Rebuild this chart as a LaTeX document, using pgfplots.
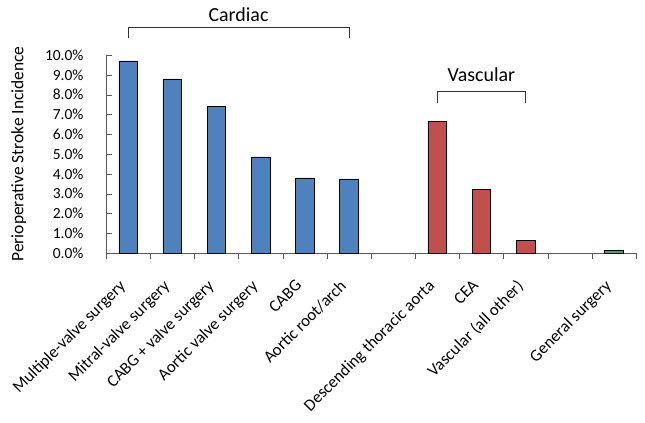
\documentclass[border=0pt]{standalone}
\usepackage{pgfplots}
\pgfplotsset{compat=1.18}
\usepackage{fontspec}
\setmainfont{Carlito}
\definecolor{cblue}{HTML}{4F81BD}
\definecolor{cred}{HTML}{C0504D}
\definecolor{cgreen}{HTML}{3AA776}
\begin{document}
\begin{tikzpicture}
\begin{axis}[
  name=ax,
  scale only axis,
  width=530bp, height=198bp,
  xmin=-0.5, xmax=11.5,
  ymin=0, ymax=10,
  clip=false,
  axis x line*=bottom,
  axis y line*=left,
  tick align=inside,
  xtick={0,1,2,3,4,5,7,8,9,11},
  xticklabels={Multiple-valve surgery,Mitral-valve surgery,CABG + valve surgery,Aortic valve surgery,CABG,Aortic root/arch,Descending thoracic aorta,CEA,Vascular (all other),General surgery},
  major x tick style={draw=none},
  minor xtick={-0.5,0.5,...,11.5},
  minor tick length=6bp,
  x tick label style={xshift=-10bp, yshift=-18bp, rotate=45, anchor=north east, font=\fontsize{16.8}{18}\selectfont, inner sep=1pt},
  ytick={0,1,...,10},
  yticklabel={\pgfmathprintnumber[fixed,fixed zerofill,precision=1]{\tick}\%},
  y tick label style={font=\fontsize{15.5}{17}\selectfont, xshift=-19bp},
  /pgf/number format/assume math mode=true,
  major tick length=6bp,
  every axis y label/.style={at={(ticklabel cs:0.5)}, xshift=-12bp, rotate=90, anchor=near ticklabel, font=\fontsize{17.5}{19}\selectfont},
  ylabel={Perioperative Stroke Incidence},
  axis line style={gray!70!black},
  tick style={gray!70!black},
  ybar, bar width=0.42,
  bar shift=0pt,
]
\addplot[fill=cblue, draw=black] coordinates {(0,9.7) (1,8.8) (2,7.4) (3,4.85) (4,3.8) (5,3.75)};
\addplot[fill=cred, draw=black] coordinates {(7,6.65) (8,3.2) (9,0.65)};
\addplot[fill=cgreen, draw=black] coordinates {(11,0.12)};
\draw[black!80, line width=0.8pt] (axis cs:0,10.85) -- (axis cs:0,11.4) -- (axis cs:5,11.4) -- (axis cs:5,10.85);
\node[font=\fontsize{20}{22}\selectfont, anchor=base] at (axis cs:2.5,11.7) {Cardiac};
\draw[black!80, line width=0.8pt] (axis cs:7,7.6) -- (axis cs:7,8.14) -- (axis cs:9,8.14) -- (axis cs:9,7.6);
\node[font=\fontsize{20}{22}\selectfont, anchor=base] at (axis cs:8,8.65) {Vascular};
\end{axis}
\pgfresetboundingbox
\path[use as bounding box] ([shift={(-106bp,-170bp)}]ax.south west) rectangle ([shift={(539bp,253bp)}]ax.south west);
\end{tikzpicture}
\end{document}
